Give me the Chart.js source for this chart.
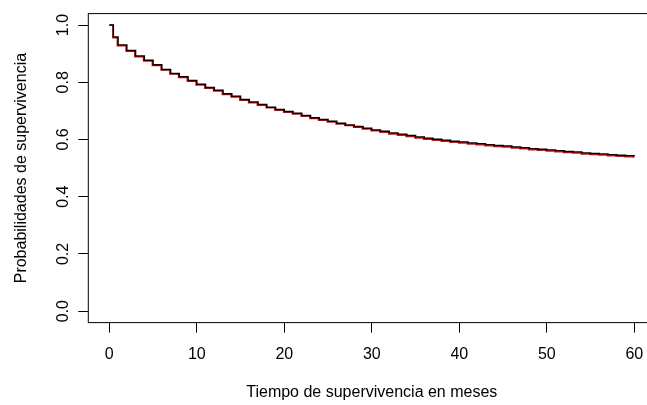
<!DOCTYPE html>
<html>
<head>
<meta charset="utf-8">
<script src="https://cdn.jsdelivr.net/npm/chart.js@4.4.1/dist/chart.umd.min.js"></script>
<style>
  html, body { margin: 0; padding: 0; background: #ffffff; overflow: hidden; }
  #wrap { width: 647px; height: 405px; overflow: hidden; }
  canvas { display: block; }
</style>
</head>
<body>
<div id="wrap"><canvas id="c" width="680" height="405"></canvas></div>
<script>
// ---- data ----
const xTitle = "Tiempo de supervivencia en meses";
const yTitle = "Probabilidades de supervivencia";
const xTickValues = [0, 10, 20, 30, 40, 50, 60];
const yTickValues = [0.0, 0.2, 0.4, 0.6, 0.8, 1.0];

// black curve: step times (months) and survival after each step
const blackTimes = [0, 0.46, 1, 2, 3, 4, 5, 6, 7, 8, 9, 10, 11, 12, 13, 14, 15, 16, 17, 18, 19, 20,
  21, 22, 23, 24, 25, 26, 27, 28, 29, 30, 31, 32, 33, 34, 35, 36, 37, 38, 39, 40,
  41, 42, 43, 44, 45, 46, 47, 48, 49, 50, 51, 52, 53, 54, 55, 56, 57, 58, 59, 60];
const blackSurv = [1.000, 0.958, 0.930, 0.911, 0.892, 0.877, 0.861, 0.845, 0.831, 0.819, 0.806,
  0.793, 0.782, 0.772, 0.760, 0.751, 0.740, 0.731, 0.722, 0.713, 0.705,
  0.698, 0.692, 0.684, 0.676, 0.670, 0.664, 0.657, 0.651, 0.645, 0.639,
  0.633, 0.629, 0.623, 0.618, 0.614, 0.609, 0.604, 0.601, 0.597, 0.594,
  0.591, 0.588, 0.585, 0.582, 0.579, 0.577, 0.574, 0.571, 0.568, 0.566,
  0.563, 0.561, 0.558, 0.556, 0.553, 0.551, 0.549, 0.547, 0.545, 0.543, 0.541];

// red curve: step times (months) and survival after each step
const redTimes = [0, 0.4, 0.9, 1.9, 2.9, 3.9, 4.9, 5.9, 6.9, 7.9, 8.9, 9.9, 10.9, 11.9, 12.9, 13.9,
  14.9, 15.9, 16.9, 17.9, 18.9, 19.9, 20.9, 21.9, 22.9, 23.9, 24.9, 25.9, 26.9, 27.9, 28.9,
  29.9, 30.9, 31.9, 32.9, 33.9, 34.9, 35.9, 36.9, 37.9, 38.9, 39.9, 40.9, 41.9, 42.9, 43.9,
  44.9, 45.9, 46.9, 47.9, 48.9, 49.9, 50.9, 51.9, 52.9, 53.9, 54.9, 55.9, 56.9, 57.9, 58.9, 59.9, 60];
const redSurv = [1.000, 0.955, 0.927, 0.908, 0.889, 0.874, 0.858, 0.842, 0.828, 0.816, 0.803,
  0.790, 0.779, 0.769, 0.757, 0.748, 0.737, 0.728, 0.719, 0.710, 0.702,
  0.695, 0.689, 0.681, 0.673, 0.667, 0.661, 0.654, 0.648, 0.642, 0.636,
  0.630, 0.625, 0.619, 0.614, 0.610, 0.605, 0.600, 0.597, 0.593, 0.590,
  0.587, 0.584, 0.581, 0.578, 0.575, 0.573, 0.570, 0.567, 0.564, 0.562,
  0.559, 0.557, 0.554, 0.552, 0.549, 0.547, 0.545, 0.543, 0.541, 0.539, 0.537, 0.537];

// ---- chart ----
const toPoints = (xs, ys) => xs.map((x, i) => ({ x: x, y: ys[i] }));

Chart.defaults.font.family = "'Liberation Sans', Arial, sans-serif";
Chart.defaults.font.size = 16;
Chart.defaults.color = '#000000';

const boxPlugin = {
  id: 'plotBox',
  afterDraw(chart) {
    const a = chart.chartArea;
    const ctx = chart.ctx;
    ctx.save();
    ctx.strokeStyle = '#000000';
    ctx.lineWidth = 1;
    ctx.strokeRect(a.left, a.top, a.right - a.left, a.bottom - a.top);
    ctx.restore();
  }
};

new Chart(document.getElementById('c'), {
  type: 'line',
  data: {
    datasets: [
      {
        label: 'black',
        data: toPoints(blackTimes, blackSurv),
        borderColor: '#000000',
        borderWidth: 1.5,
        stepped: true,
        pointRadius: 0,
        fill: false
      },
      {
        label: 'red',
        data: toPoints(redTimes, redSurv),
        borderColor: '#ff0000',
        borderWidth: 1.2,
        stepped: true,
        pointRadius: 0,
        fill: false
      }
    ]
  },
  options: {
    responsive: false,
    devicePixelRatio: 1,
    animation: false,
    events: [],
    layout: { padding: { left: 0, right: 24.7, top: 10.4, bottom: 0 } },
    plugins: { legend: { display: false }, tooltip: { enabled: false } },
    scales: {
      x: {
        type: 'linear',
        min: -2.4,
        max: 62.4,
        afterBuildTicks: (s) => { s.ticks = xTickValues.map(v => ({ value: v })); },
        afterFit: (s) => { s.height = 82.4; },
        border: { display: false },
        grid: { display: true, drawOnChartArea: false, drawTicks: true, tickLength: 10, color: '#000000', lineWidth: 1 },
        ticks: { padding: 12, maxRotation: 0, minRotation: 0, callback: (v) => String(v) },
        title: { display: true, text: xTitle, padding: { top: 0, bottom: 2.4 } }
      },
      y: {
        type: 'linear',
        min: -0.04,
        max: 1.04,
        afterBuildTicks: (s) => { s.ticks = yTickValues.map(v => ({ value: v })); },
        afterFit: (s) => { s.width = 88.3; },
        border: { display: false },
        grid: { display: true, drawOnChartArea: false, drawTicks: true, tickLength: 10, color: '#000000', lineWidth: 1 },
        ticks: { padding: 4, minRotation: 90, maxRotation: 90, crossAlign: 'center', callback: (v) => Number(v).toFixed(1) },
        title: { display: true, text: yTitle, padding: { top: 12.4, bottom: 0 } }
      }
    }
  },
  plugins: [boxPlugin]
});
</script>
</body>
</html>
